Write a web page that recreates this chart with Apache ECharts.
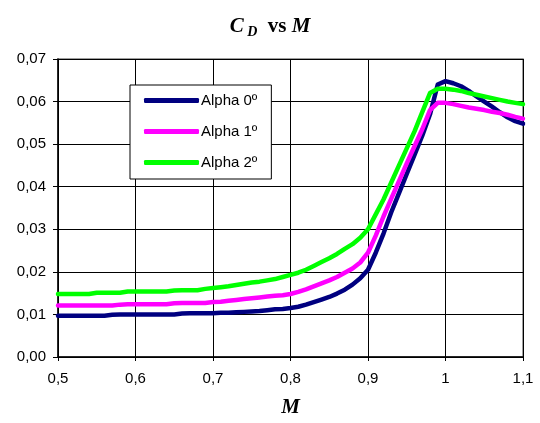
<!DOCTYPE html>
<html><head><meta charset="utf-8">
<script src="https://cdn.jsdelivr.net/npm/echarts@6/dist/echarts.min.js"></script>
<style>html,body{margin:0;padding:0;background:#fff}#c{width:540px;height:423px}</style>
</head><body><div id="c"></div>
<script>
const mach = [0.50,0.51,0.52,0.53,0.54,0.55,0.56,0.57,0.58,0.59,0.60,0.61,0.62,0.63,0.64,0.65,0.66,0.67,0.68,0.69,
0.70,0.71,0.72,0.73,0.74,0.75,0.76,0.77,0.78,0.79,0.80,0.81,0.82,0.83,0.84,0.85,0.86,0.87,0.88,0.89,
0.90,0.91,0.92,0.93,0.94,0.95,0.96,0.97,0.98,0.99,1.00,1.01,1.02,1.03,1.04,1.05,1.06,1.07,1.08,1.09,1.10];
const cdAlpha0 = [.0097,.0097,.0097,.0097,.0097,.0097,.0097,.0099,.0100,.0100,.0100,.0100,.0100,.0100,.0100,.0100,.0102,.0103,.0103,.0103,
.0103,.0104,.0104,.0105,.0106,.0107,.0108,.0110,.0112,.0113,.0115,.0118,.0123,.0129,.0135,.0141,.0149,.0158,.0170,.0185,
.0205,.0245,.0290,.0340,.0385,.0430,.0475,.0520,.0570,.0640,.0648,.0643,.0636,.0625,.0612,.0600,.0588,.0575,.0563,.0554,.0548];
const cdAlpha1 = [.0121,.0121,.0121,.0121,.0121,.0121,.0121,.0121,.0123,.0124,.0124,.0124,.0124,.0124,.0124,.0126,.0127,.0127,.0127,.0127,
.0129,.0130,.0132,.0134,.0136,.0138,.0140,.0142,.0144,.0145,.0148,.0153,.0159,.0166,.0173,.0180,.0188,.0198,.0208,.0222,
.0245,.0285,.0330,.0372,.0413,.0455,.0495,.0535,.0580,.0597,.0597,.0594,.0590,.0586,.0583,.0580,.0576,.0573,.0569,.0564,.0560];
const cdAlpha2 = [.0148,.0148,.0148,.0148,.0148,.0151,.0151,.0151,.0151,.0154,.0154,.0154,.0154,.0154,.0154,.0156,.0157,.0157,.0157,.0160,
.0162,.0164,.0166,.0169,.0172,.0175,.0177,.0180,.0183,.0188,.0193,.0198,.0205,.0214,.0223,.0232,.0242,.0254,.0265,.0280,
.0300,.0335,.0370,.0410,.0450,.0490,.0530,.0575,.0620,.0630,.0630,.0628,.0625,.0620,.0616,.0612,.0608,.0604,.0600,.0597,.0594];
const seriesNames = ['Alpha 0º','Alpha 1º','Alpha 2º'];
const seriesColors = ['#000080','#FF00FF','#00FF00'];
const seriesValues = [cdAlpha0, cdAlpha1, cdAlpha2];

const chart = echarts.init(document.getElementById('c'), null, {renderer:'canvas'});
const font = 'Liberation Sans, Arial, sans-serif';
const serif = 'Liberation Serif, Times New Roman, serif';
chart.setOption({
  animation: false,
  backgroundColor: '#fff',
  title: {
    text: '{c|C}{d| D}{v|  vs }{m|M}',
    left: 'center', top: 10,
    textStyle: {
      rich: {
        c: {fontFamily: serif, fontSize: 21, fontWeight: 'bold', fontStyle: 'italic', color: '#000'},
        d: {fontFamily: serif, fontSize: 14, fontWeight: 'bold', fontStyle: 'italic', color: '#000', padding: [10,0,0,0]},
        v: {fontFamily: serif, fontSize: 21, fontWeight: 'bold', color: '#000'},
        m: {fontFamily: serif, fontSize: 21, fontWeight: 'bold', fontStyle: 'italic', color: '#000'}
      }
    }
  },
  grid: {left: 58, right: 17, top: 59, bottom: 61, show: true, borderColor: '#808080', borderWidth: 1.5},
  legend: {
    orient: 'vertical', left: 130, top: 85,
    backgroundColor: '#fff', borderColor: '#000', borderWidth: 1,
    padding: [8, 14, 9, 14], itemGap: 16,
    itemWidth: 55, itemHeight: 5, icon: 'roundRect', itemStyle: {borderWidth: 0},
    textStyle: {fontFamily: font, fontSize: 15, color: '#000', padding: [0,0,0,-3]},
    data: seriesNames
  },
  xAxis: {
    type: 'value', min: 0.5, max: 1.1, interval: 0.1,
    name: 'M', nameLocation: 'middle', nameGap: 40,
    nameTextStyle: {fontFamily: serif, fontSize: 21, fontWeight: 'bold', fontStyle: 'italic', color: '#000'},
    axisLine: {show: true, onZero: false, lineStyle: {color: '#000', width: 1.5}},
    axisTick: {show: true, length: 4, lineStyle: {color: '#000'}},
    axisLabel: {fontFamily: font, fontSize: 15, color: '#000', margin: 14,
      formatter: v => String(Math.round(v*10)/10).replace('.', ',')},
    splitLine: {show: true, lineStyle: {color: '#000', width: 1}}
  },
  yAxis: {
    type: 'value', min: 0, max: 0.07, interval: 0.01,
    axisLine: {show: true, lineStyle: {color: '#000', width: 1.5}},
    axisTick: {show: true, length: 5, lineStyle: {color: '#000'}},
    axisLabel: {fontFamily: font, fontSize: 15, color: '#000', margin: 12,
      formatter: v => v.toFixed(2).replace('.', ',')},
    splitLine: {show: true, lineStyle: {color: '#000', width: 1}}
  },
  series: seriesNames.map((n, k) => ({
    name: n, type: 'line', showSymbol: false, symbol: 'none',
    data: mach.map((m, i) => [m, seriesValues[k][i]]),
    lineStyle: {color: seriesColors[k], width: 4.5, cap: 'round', join: 'round'},
    itemStyle: {color: seriesColors[k]},
    z: 2 + k
  }))
});
</script></body></html>
